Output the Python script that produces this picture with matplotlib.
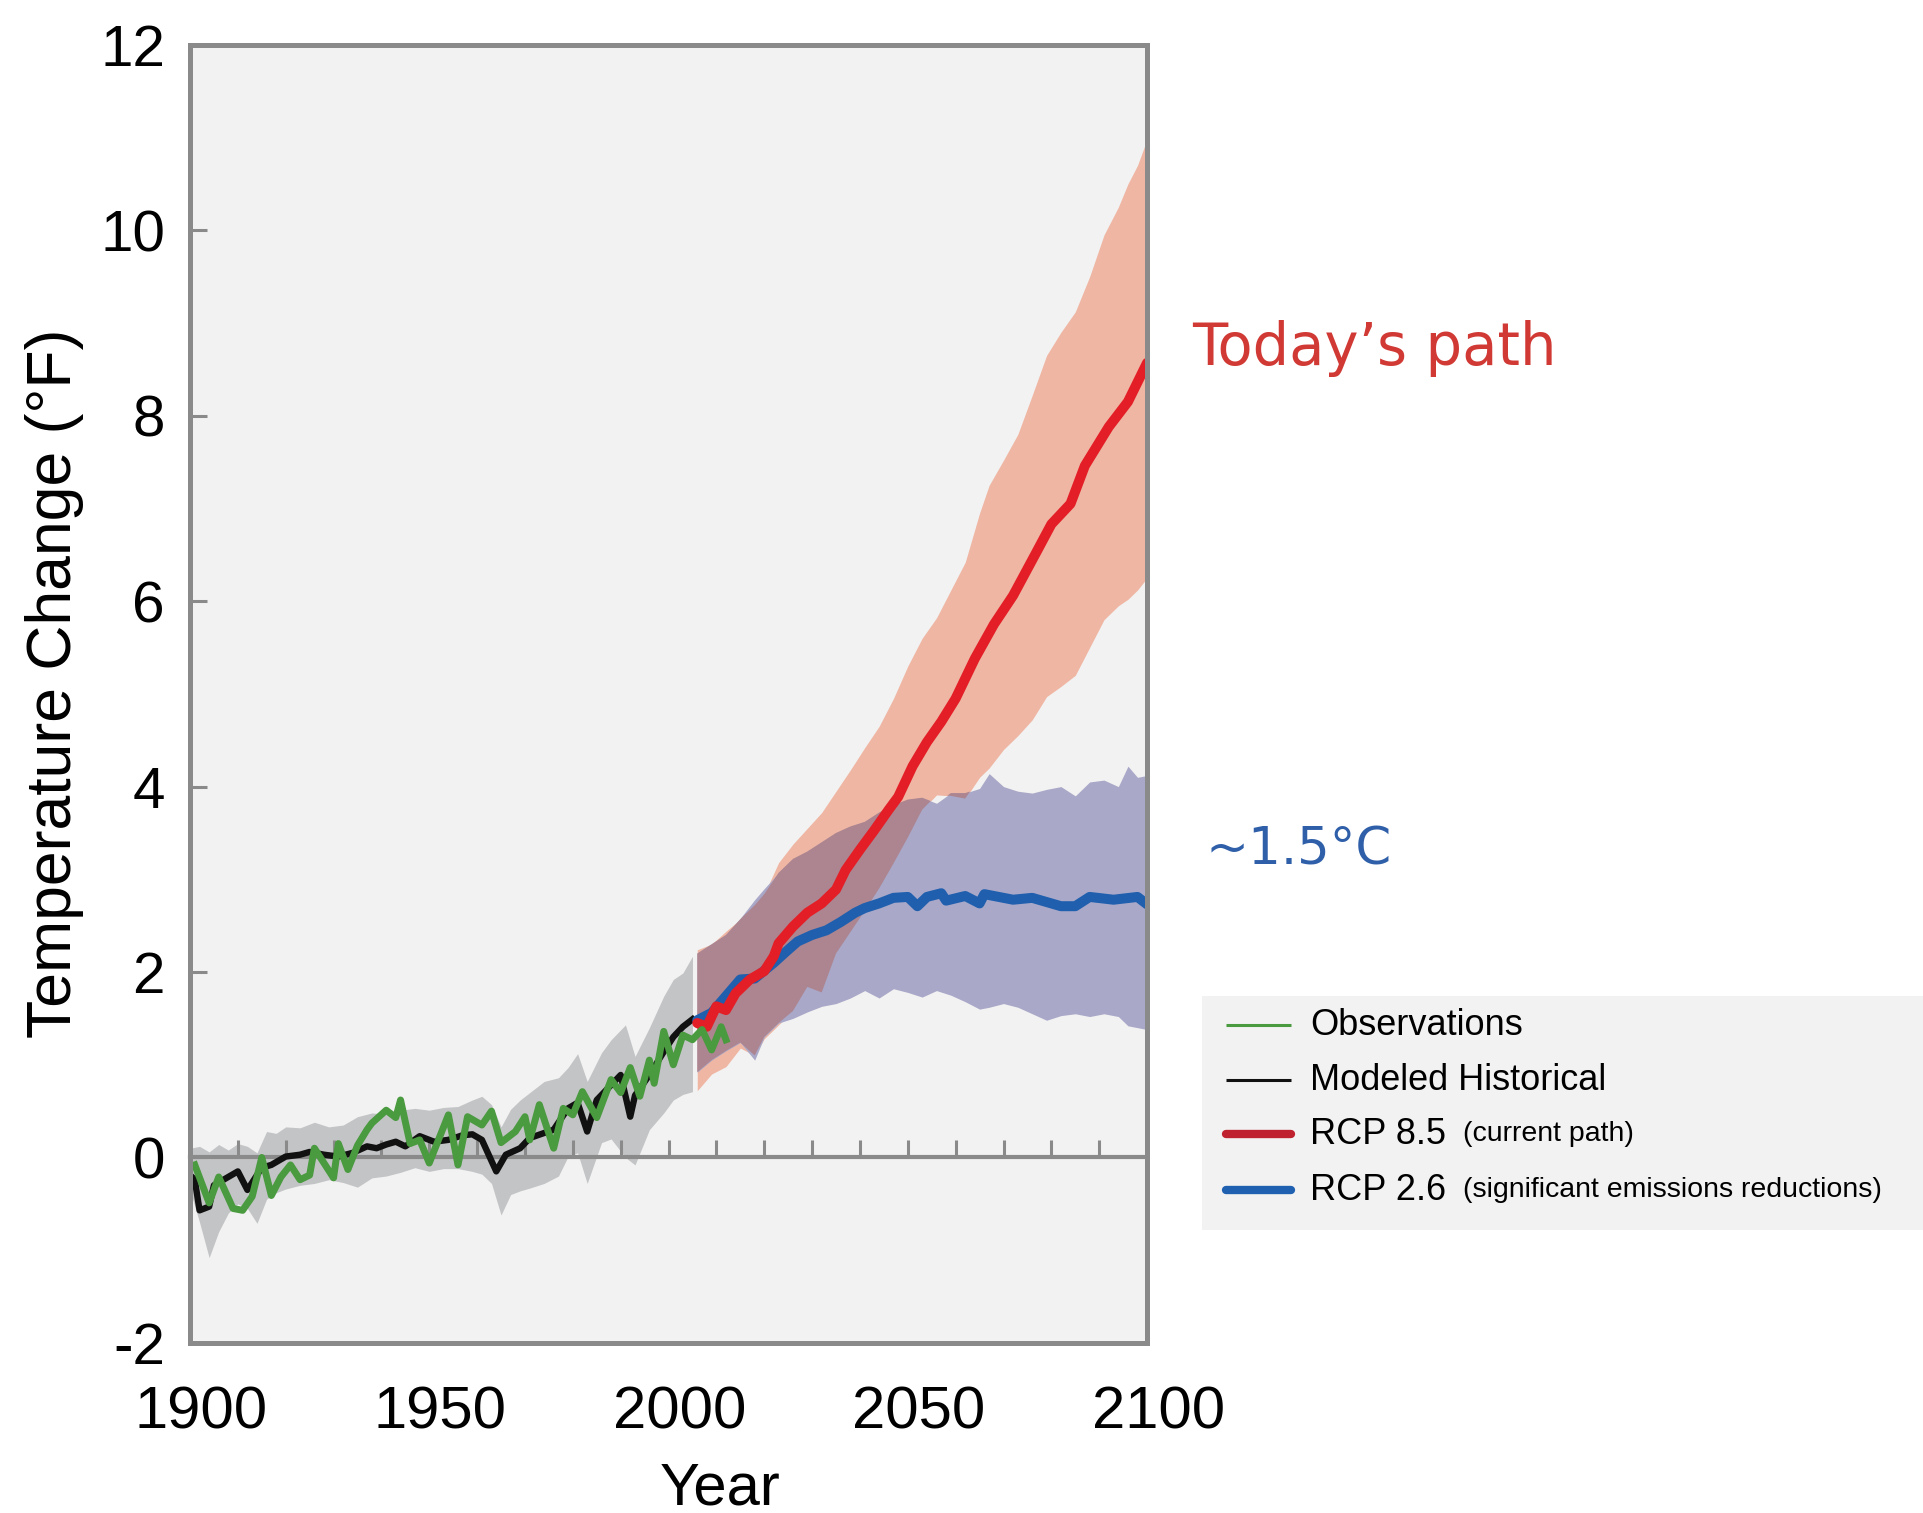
# Temperature change 1900-2100: observations, modeled history, RCP 8.5 vs RCP 2.6
import numpy as np
import matplotlib
matplotlib.use("Agg")
import matplotlib.pyplot as plt
import matplotlib.transforms as mtransforms
from matplotlib import font_manager

# observations (green)
obs_years = [1901, 1904, 1906, 1909, 1911, 1913, 1915, 1917, 1919, 1921, 1923, 1925,
             1926, 1930, 1931, 1933, 1935, 1937, 1938, 1941, 1943, 1944, 1946, 1948,
             1950, 1954, 1956, 1958, 1961, 1963, 1965, 1968, 1970, 1971, 1973, 1976,
             1978, 1980, 1982, 1985, 1988, 1990, 1992, 1994, 1996, 1997, 1999, 2001,
             2003, 2005, 2007, 2009, 2011, 2012]
obs_vals = [-0.08, -0.49, -0.21, -0.55, -0.57, -0.42, 0.00, -0.41, -0.21, -0.08, -0.24, -0.19,
            0.10, -0.22, 0.15, -0.13, 0.13, 0.30, 0.37, 0.51, 0.43, 0.62, 0.15, 0.19,
            -0.06, 0.46, -0.08, 0.44, 0.35, 0.50, 0.16, 0.28, 0.44, 0.19, 0.57, 0.10,
            0.53, 0.46, 0.71, 0.43, 0.84, 0.70, 0.97, 0.66, 1.05, 0.80, 1.36, 1.00,
            1.32, 1.27, 1.38, 1.16, 1.41, 1.27]

# modeled historical mean (black)
hist_years = [1900, 1901, 1902, 1904, 1905, 1908, 1910, 1912, 1915, 1917, 1920, 1923,
              1925, 1928, 1931, 1934, 1937, 1939, 1941, 1943, 1945, 1948, 1951, 1954,
              1957, 1959, 1961, 1964, 1966, 1969, 1971, 1976, 1979, 1981, 1983, 1985,
              1990, 1992, 1993, 1996, 1999, 2001, 2003, 2005]
hist_vals = [-0.19, -0.24, -0.57, -0.53, -0.30, -0.21, -0.15, -0.35, -0.11, -0.08, 0.01, 0.03,
             0.06, 0.03, 0.01, 0.05, 0.12, 0.10, 0.14, 0.17, 0.12, 0.23, 0.17, 0.19,
             0.24, 0.25, 0.19, -0.15, 0.03, 0.10, 0.21, 0.30, 0.53, 0.59, 0.28, 0.62,
             0.89, 0.44, 0.67, 0.89, 1.14, 1.30, 1.41, 1.49]

# modeled historical range (grey band)
band_years = [1900, 1902, 1904, 1906, 1908, 1910, 1912, 1914, 1916, 1918, 1920, 1923,
              1926, 1929, 1932, 1935, 1938, 1941, 1944, 1947, 1950, 1953, 1956, 1959,
              1961, 1963, 1965, 1967, 1969, 1971, 1974, 1977, 1979, 1981, 1983, 1986,
              1988, 1991, 1993, 1996, 1999, 2001, 2003, 2005]
band_hi = [0.10, 0.12, 0.06, 0.14, 0.08, 0.15, 0.12, 0.05, 0.28, 0.26, 0.33, 0.32,
           0.38, 0.33, 0.35, 0.44, 0.48, 0.47, 0.51, 0.53, 0.51, 0.54, 0.55, 0.62,
           0.66, 0.57, 0.33, 0.52, 0.62, 0.70, 0.82, 0.86, 0.97, 1.12, 0.82, 1.13,
           1.27, 1.43, 1.09, 1.40, 1.74, 1.92, 1.99, 2.17]
band_lo = [-0.35, -0.70, -1.08, -0.80, -0.60, -0.50, -0.55, -0.71, -0.45, -0.38, -0.34, -0.30,
           -0.28, -0.24, -0.27, -0.32, -0.22, -0.20, -0.16, -0.11, -0.15, -0.12, -0.12, -0.15,
           -0.18, -0.28, -0.62, -0.40, -0.36, -0.33, -0.28, -0.20, 0.01, 0.05, -0.28, 0.16,
           0.20, 0.00, -0.08, 0.30, 0.48, 0.62, 0.68, 0.71]

# projection ranges (same years for both scenarios)
proj_years = [2006, 2009, 2012, 2015, 2018, 2020, 2023, 2026, 2029, 2032, 2035, 2038,
              2041, 2044, 2047, 2050, 2053, 2056, 2059, 2062, 2065, 2067, 2070, 2073,
              2076, 2079, 2082, 2085, 2088, 2091, 2094, 2096, 2098, 2100]
rcp85_hi = [2.24, 2.30, 2.44, 2.57, 2.72, 2.84, 3.18, 3.38, 3.55, 3.72, 3.95, 4.18,
            4.42, 4.65, 4.95, 5.30, 5.60, 5.82, 6.12, 6.42, 6.95, 7.25, 7.52, 7.80,
            8.22, 8.65, 8.90, 9.12, 9.50, 9.95, 10.25, 10.50, 10.70, 10.98]
rcp85_lo = [0.72, 0.90, 0.98, 1.18, 1.10, 1.28, 1.43, 1.58, 1.84, 1.78, 2.20, 2.43,
            2.66, 2.90, 3.17, 3.45, 3.75, 3.91, 3.90, 3.87, 4.10, 4.20, 4.40, 4.55,
            4.72, 4.97, 5.08, 5.20, 5.50, 5.80, 5.95, 6.02, 6.12, 6.25]
rcp26_hi = [2.20, 2.30, 2.40, 2.58, 2.78, 2.90, 3.07, 3.22, 3.30, 3.40, 3.50, 3.57,
            3.62, 3.72, 3.80, 3.86, 3.88, 3.82, 3.93, 3.93, 3.98, 4.14, 4.00, 3.95,
            3.93, 3.97, 4.00, 3.90, 4.05, 4.07, 4.00, 4.22, 4.10, 4.12]
rcp26_lo = [0.92, 1.05, 1.15, 1.24, 1.05, 1.30, 1.45, 1.50, 1.57, 1.63, 1.66, 1.72,
            1.80, 1.72, 1.82, 1.78, 1.73, 1.80, 1.75, 1.68, 1.60, 1.62, 1.66, 1.62,
            1.55, 1.48, 1.53, 1.55, 1.52, 1.55, 1.52, 1.42, 1.40, 1.38]

# projection means
rcp85_years = [2006, 2008, 2010, 2012, 2014, 2017, 2020, 2022, 2023, 2026, 2029, 2032,
               2035, 2037, 2040, 2043, 2046, 2048, 2051, 2054, 2057, 2060, 2064, 2068,
               2072, 2077, 2080, 2084, 2087, 2092, 2096, 2100]
rcp85_vals = [1.45, 1.41, 1.63, 1.59, 1.77, 1.92, 2.01, 2.17, 2.31, 2.49, 2.64, 2.74,
              2.89, 3.10, 3.32, 3.53, 3.75, 3.89, 4.22, 4.48, 4.70, 4.95, 5.38, 5.75,
              6.06, 6.54, 6.83, 7.05, 7.46, 7.88, 8.15, 8.57]
rcp26_years = [2006, 2009, 2012, 2015, 2018, 2022, 2025, 2027, 2030, 2033, 2036, 2039,
               2041, 2044, 2047, 2050, 2052, 2054, 2057, 2058, 2062, 2065, 2066, 2072,
               2076, 2082, 2085, 2088, 2093, 2098, 2100]
rcp26_vals = [1.48, 1.56, 1.74, 1.92, 1.93, 2.10, 2.24, 2.33, 2.40, 2.45, 2.54, 2.64,
              2.69, 2.74, 2.80, 2.81, 2.71, 2.81, 2.85, 2.77, 2.82, 2.74, 2.84, 2.78,
              2.80, 2.71, 2.71, 2.81, 2.78, 2.81, 2.73]

x_ticks = [1900, 1950, 2000, 2050, 2100]
y_ticks = [-2, 0, 2, 4, 6, 8, 10, 12]

legend_labels = ["Observations", "Modeled Historical", "RCP 8.5", "RCP 2.6"]
legend_notes = ["", "", "(current path)", "(significant emissions reductions)"]

GREY = "#8a8a8a"
GREEN = "#4a9a3f"
RED = "#e31e26"
BLUE = "#1f5fae"

names = {f.name for f in font_manager.fontManager.ttflist}
SANS = "Liberation Sans Narrow" if "Liberation Sans Narrow" in names else "Liberation Sans"

fig = plt.figure(figsize=(19.23, 15.13), dpi=100)
ax = fig.add_axes([0.0988, 0.1124, 0.4977, 0.858])
ax.set_facecolor("#f2f2f2")
ax.set_xlim(1900, 2100)
ax.set_ylim(-2, 12)

# bands
ax.fill_between(band_years, band_lo, band_hi, color="#c3c4c6", lw=0, zorder=1)
ax.fill_between(proj_years, rcp85_lo, rcp85_hi, color="#efb6a3", lw=0, zorder=1)
ax.fill_between(proj_years, rcp26_lo, rcp26_hi, color="#a9a8c8", lw=0, zorder=1)
ov_lo = np.maximum(rcp85_lo, rcp26_lo)
ov_hi = np.minimum(rcp85_hi, rcp26_hi)
ax.fill_between(proj_years, ov_lo, ov_hi, where=ov_hi > ov_lo, interpolate=True,
                color="#ac8590", lw=0, zorder=1)

# zero line with decade ticks
sec = ax.secondary_xaxis(0, transform=ax.transData)
sec.patch.set_visible(False)
sec.set_zorder(1.5)
sec.set_xticks(np.arange(1910, 2100, 10))
sec.tick_params(direction="in", length=12, width=2.2, color=GREY, labelbottom=False)
for s in sec.spines.values():
    s.set_color(GREY)
    s.set_linewidth(3)

# lines
ax.plot(hist_years, hist_vals, color="#111111", lw=4.6, solid_joinstyle="round", zorder=3)
ax.plot(rcp26_years, rcp26_vals, color=BLUE, lw=7.2, solid_joinstyle="round",
        solid_capstyle="round", zorder=4)
ax.plot(rcp85_years, rcp85_vals, color=RED, lw=7.2, solid_joinstyle="round",
        solid_capstyle="round", zorder=5)
ax.plot(obs_years, obs_vals, color=GREEN, lw=5, solid_joinstyle="round", zorder=6)

# frame and ticks
for s in ax.spines.values():
    s.set_color(GREY)
    s.set_linewidth(3.6)
    s.set_zorder(7)
ax.set_xticks(x_ticks)
ax.set_yticks(y_ticks)
ax.set_yticklabels([str(v) for v in y_ticks])
ax.tick_params(axis="x", length=0, pad=31, labelsize=43)
ax.tick_params(axis="y", direction="in", length=12, width=2.2, color=GREY, pad=18,
               labelsize=42)
for lab in ax.get_xticklabels() + ax.get_yticklabels():
    lab.set_fontfamily(SANS)
offset = mtransforms.ScaledTranslation(0.11, 0, fig.dpi_scale_trans)
for lab in ax.get_xticklabels():
    lab.set_transform(lab.get_transform() + offset)

ax.set_xlabel("Year", fontsize=43, fontfamily=SANS)
ax.xaxis.set_label_coords(0.554, -0.0915)
ax.set_ylabel("Temperature Change (°F)", fontsize=45, fontfamily="Liberation Sans",
              va="center")
ax.yaxis.set_label_coords(-0.142, 0.508)

# annotations
fig.text(0.620, 0.7588, "Today\u2019s path", color="#d13934", fontsize=41.5,
         fontfamily="DejaVu Sans", va="baseline")
fig.text(0.627, 0.4283, "~1.5°C", color="#2f5fa8", fontsize=37,
         fontfamily="DejaVu Sans", va="baseline")

# legend panel
lax = fig.add_axes([0.625, 0.187, 0.376, 0.1547])
lax.set_facecolor("#f2f2f2")
lax.set_xlim(0, 721)
lax.set_ylim(234, 0)
lax.set_xticks([])
lax.set_yticks([])
for s in lax.spines.values():
    s.set_visible(False)
styles = [(GREEN, 2.2, "butt"), ("#111111", 2.2, "butt"),
          ("#c0212e", 6, "round"), ("#2060b0", 6, "round")]
rows = [29, 84, 138, 194]
for (col, lw, cap), label, note, yy in zip(styles, legend_labels, legend_notes, rows):
    lax.plot([24, 89], [yy, yy], color=col, lw=lw, solid_capstyle=cap)
    lax.text(108, yy, label, fontsize=26, fontfamily=SANS, va="center")
    if note:
        lax.text(260, yy, note, fontsize=20.5, fontfamily=SANS, va="center")

fig.savefig("out.png", dpi=100)
